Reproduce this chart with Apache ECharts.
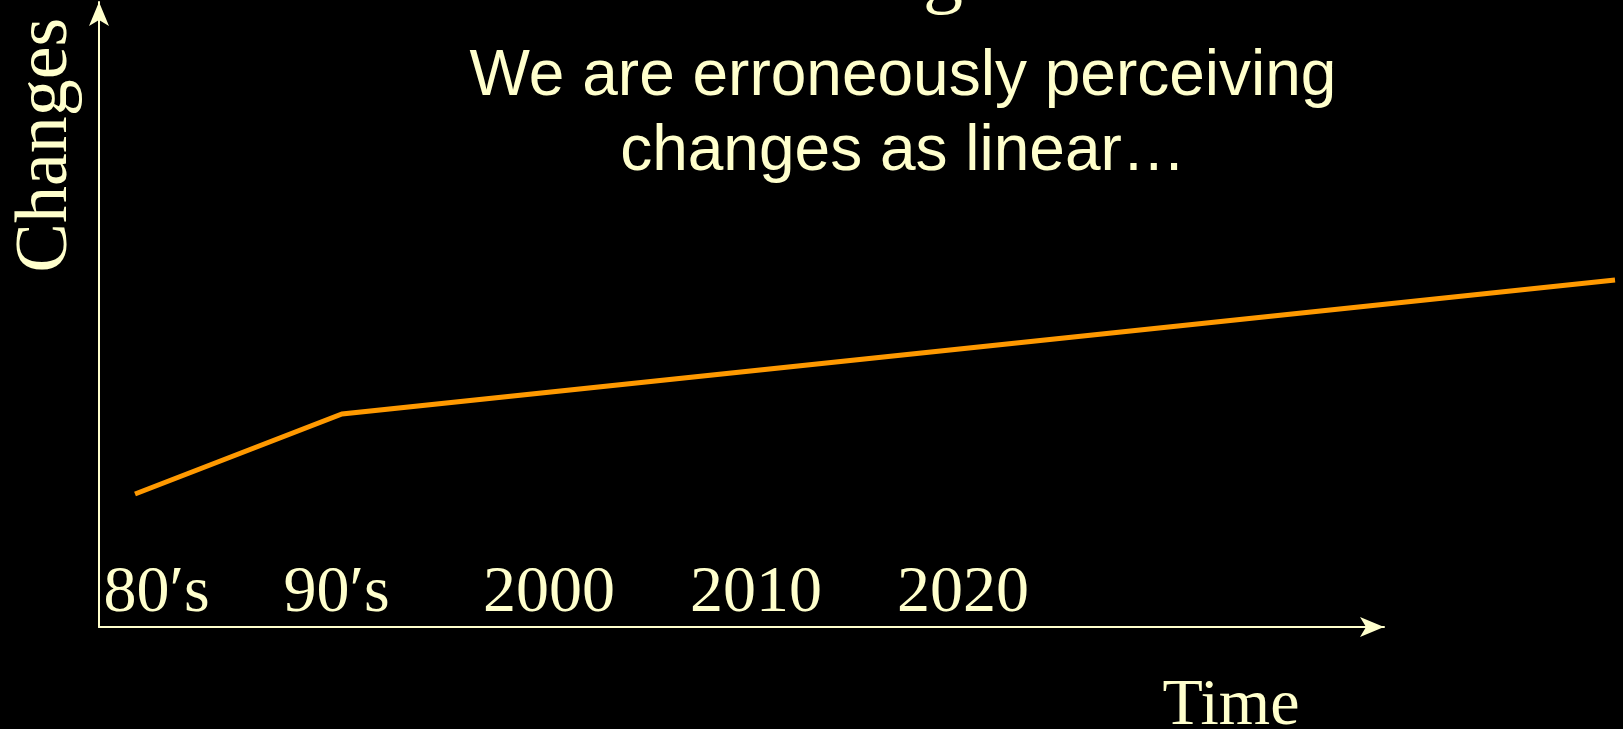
<!DOCTYPE html>
<html>
<head>
<meta charset="utf-8">
<script src="https://cdn.jsdelivr.net/npm/echarts@6/dist/echarts.min.js"></script>
<style>
html,body{margin:0;padding:0;background:#000;}
#chart{width:1623px;height:729px;}
</style>
</head>
<body>
<div id="chart"></div>
<script>
// ---- data ----
const years = [1980, 1990, 2051.5];
const changes = [133, 213, 347];
const tickYears = [1980, 1990, 2000, 2010, 2020];
const tickLabels = ['80′s', '90′s', '2000', '2010', '2020'];
const titleLines = ['We are erroneously perceiving', 'changes as linear…'];
const xName = 'Time';
const yName = 'Changes';

const cream = '#FFFFCC';
const orange = '#FF9900';
const serif = '"Liberation Serif", "Times New Roman", serif';
const sans = '"Liberation Sans", Arial, sans-serif';

const chart = echarts.init(document.getElementById('chart'), null, {renderer: 'canvas'});

const labelStyleKey = {0: 'a', 1: 'b'};
const X_MIN = 1978.26;

chart.setOption({
  backgroundColor: '#000',
  animation: false,
  title: {
    text: titleLines.join('\n'),
    left: 903,
    top: 40,
    padding: 0,
    textAlign: 'center',
    textStyle: {color: cream, fontFamily: sans, fontSize: 64, fontWeight: 'normal', lineHeight: 75}
  },
  graphic: [{
    type: 'text', x: 943, y: -23, silent: true,
    style: {text: 'g', fill: cream, font: '80px ' + serif, align: 'center', verticalAlign: 'middle'}
  }],
  grid: [
    // data grid (line may run past the drawn x-axis arrow)
    {left: 99, right: 3, top: 2, bottom: 102, containLabel: false, outerBoundsMode: 'none'},
    // frame grid: carries the visible arrowed axes
    {left: 99, right: 239, top: 2, bottom: 102, containLabel: false, outerBoundsMode: 'none'}
  ],
  xAxis: [{
    type: 'value',
    gridIndex: 0,
    min: X_MIN,
    max: 2051.74,
    axisLine: {show: false},
    axisTick: {show: false},
    splitLine: {show: false},
    axisLabel: {
      inside: true,
      margin: 0,
      customValues: tickYears,
      color: cream,
      fontFamily: serif,
      fontSize: 66,
      formatter: function (v) {
        const i = tickYears.indexOf(v);
        const t = i >= 0 ? tickLabels[i] : '';
        if (labelStyleKey[i]) return '{' + labelStyleKey[i] + '|' + t + '}';
        return t;
      },
      rich: {
        a: {color: cream, fontFamily: serif, fontSize: 66, padding: [0, 0, 0, 43]},
        b: {color: cream, fontFamily: serif, fontSize: 66, padding: [0, 11, 0, 0]}
      }
    }
  }, {
    type: 'value',
    gridIndex: 1,
    min: 0,
    max: 1,
    name: xName,
    nameLocation: 'end',
    nameGap: -153,
    nameMoveOverlap: false,
    nameTextStyle: {color: cream, fontFamily: serif, fontSize: 66, align: 'center', verticalAlign: 'top', lineHeight: 160},
    axisLine: {show: true, onZero: false, symbol: ['none', 'arrow'], symbolSize: [15, 24], lineStyle: {color: cream, width: 2}},
    axisTick: {show: false},
    axisLabel: {show: false},
    splitLine: {show: false}
  }],
  yAxis: [{
    type: 'value',
    gridIndex: 0,
    min: 0,
    max: 625,
    axisLine: {show: false},
    axisTick: {show: false},
    axisLabel: {show: false},
    splitLine: {show: false}
  }, {
    type: 'value',
    gridIndex: 1,
    min: 0,
    max: 1,
    name: yName,
    nameLocation: 'end',
    nameRotate: 90,
    nameGap: -143,
    nameMoveOverlap: false,
    nameTextStyle: {color: cream, fontFamily: serif, fontSize: 74, align: 'center', verticalAlign: 'bottom', lineHeight: 104},
    axisLine: {show: true, onZero: false, symbol: ['none', 'arrow'], symbolSize: [15, 24], lineStyle: {color: cream, width: 2}},
    axisTick: {show: false},
    axisLabel: {show: false},
    splitLine: {show: false}
  }],
  series: [{
    type: 'line',
    xAxisIndex: 0,
    yAxisIndex: 0,
    data: years.map((y, i) => [y, changes[i]]),
    clip: false,
    showSymbol: false,
    symbol: 'none',
    lineStyle: {color: orange, width: 5, cap: 'butt', join: 'miter'},
    silent: true
  }]
});
</script>
</body>
</html>
